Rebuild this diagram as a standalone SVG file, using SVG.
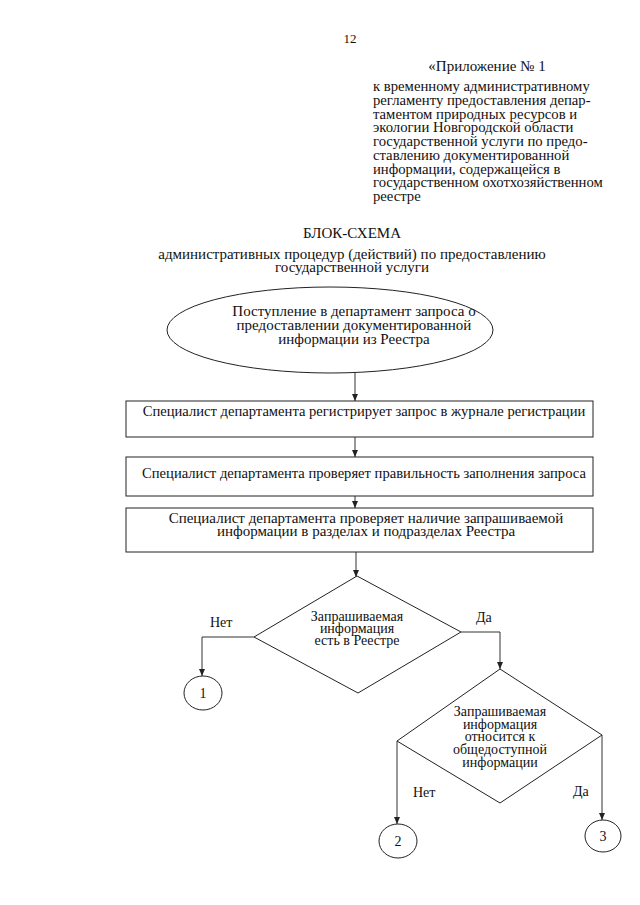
<svg xmlns="http://www.w3.org/2000/svg" width="640" height="905" viewBox="0 0 640 905">
<style>
text{font-family:"Liberation Serif","Times New Roman",serif;fill:#111}
.s{fill:#fff;stroke:#222;stroke-width:1}
.c{fill:none;stroke:#333;stroke-width:1}
.m{text-anchor:middle}
.h{font-size:14.7px}
.b{font-size:15px}
.b2{font-size:14.6px}
.d{font-size:14px}
</style>
<defs>
<marker id="a" markerWidth="8" markerHeight="8" refX="7" refY="4" orient="auto" markerUnits="userSpaceOnUse">
<path d="M0,1 L7,4 L0,7 Z" fill="#222"/>
</marker>
</defs>
<rect width="640" height="905" fill="#fff"/>
<g id="header">
<text x="350" y="43" class="m" font-size="13">12</text>
<text x="487" y="71" class="m" font-size="15">«Приложение № 1</text>
<g class="h">
<text x="373" y="91">к временному административному</text>
<text x="373" y="104.8">регламенту предоставления депар-</text>
<text x="373" y="118.5">таментом природных ресурсов и</text>
<text x="373" y="132.3">экологии Новгородской области</text>
<text x="373" y="146">государственной услуги по предо-</text>
<text x="373" y="159.8">ставлению документированной</text>
<text x="373" y="173.5">информации, содержащейся в</text>
<text x="373" y="187.3">государственном охотхозяйственном</text>
<text x="373" y="201">реестре</text>
</g>
</g>
<g id="title">
<text x="352" y="238" class="m" font-size="15">БЛОК-СХЕМА</text>
<text x="352" y="259" class="m" font-size="15">административных процедур (действий) по предоставлению</text>
<text x="352" y="271.5" class="m" font-size="15">государственной услуги</text>
</g>
<g id="connectors">
<line class="c" x1="355" y1="373" x2="355" y2="401" marker-end="url(#a)"/>
<line class="c" x1="355" y1="437" x2="355" y2="457" marker-end="url(#a)"/>
<line class="c" x1="355" y1="496" x2="355" y2="508" marker-end="url(#a)"/>
<line class="c" x1="356" y1="552" x2="356" y2="577" marker-end="url(#a)"/>
<polyline class="c" points="254,637 202,637 202,676" marker-end="url(#a)"/>
<polyline class="c" points="461,632 500,632 500,669" marker-end="url(#a)"/>
<line class="c" x1="397" y1="741" x2="397" y2="824" marker-end="url(#a)"/>
<line class="c" x1="602" y1="735" x2="602" y2="820" marker-end="url(#a)"/>
<text x="210" y="627" font-size="14">Нет</text>
<text x="476" y="622" font-size="14">Да</text>
<text x="413" y="797" font-size="14">Нет</text>
<text x="573" y="796" font-size="14">Да</text>
</g>
<g id="start">
<ellipse class="s" cx="330" cy="330" rx="163" ry="43"/>
<text x="354" y="316" class="m b">Поступление в департамент запроса о</text>
<text x="354" y="330" class="m b">предоставлении документированной</text>
<text x="354" y="344" class="m b">информации из Реестра</text>
</g>
<g id="step1">
<rect class="s" x="126" y="401" width="467" height="36"/>
<text x="364" y="416" class="m b2">Специалист департамента регистрирует запрос в журнале регистрации</text>
</g>
<g id="step2">
<rect class="s" x="126" y="457" width="467" height="39"/>
<text x="364" y="478" class="m b2">Специалист департамента проверяет правильность заполнения запроса</text>
</g>
<g id="step3">
<rect class="s" x="126" y="508" width="467" height="44"/>
<text x="366" y="523" class="m b">Специалист департамента проверяет наличие запрашиваемой</text>
<text x="366" y="536" class="m b">информации в разделах и подразделах Реестра</text>
</g>
<g id="decision1">
<polygon class="s" points="357,576 461,632 358,693 254,637"/>
<text x="357" y="621" class="m d">Запрашиваемая</text>
<text x="357" y="633" class="m d">информация</text>
<text x="357" y="644.5" class="m d">есть в Реестре</text>
</g>
<g id="decision2">
<polygon class="s" points="500,669 602,735 500,803 397,741"/>
<text x="500" y="716" class="m d">Запрашиваемая</text>
<text x="500" y="729" class="m d">информация</text>
<text x="500" y="741" class="m d">относится к</text>
<text x="500" y="754" class="m d">общедоступной</text>
<text x="500" y="767" class="m d">информации</text>
</g>
<g id="end1">
<ellipse class="s" cx="203" cy="693" rx="19" ry="17"/>
<text x="203" y="698" class="m" font-size="14">1</text>
</g>
<g id="end2">
<ellipse class="s" cx="398" cy="841" rx="19" ry="17"/>
<text x="398" y="846" class="m" font-size="14">2</text>
</g>
<g id="end3">
<ellipse class="s" cx="603" cy="836" rx="18" ry="16"/>
<text x="603" y="841" class="m" font-size="14">3</text>
</g>
</svg>
